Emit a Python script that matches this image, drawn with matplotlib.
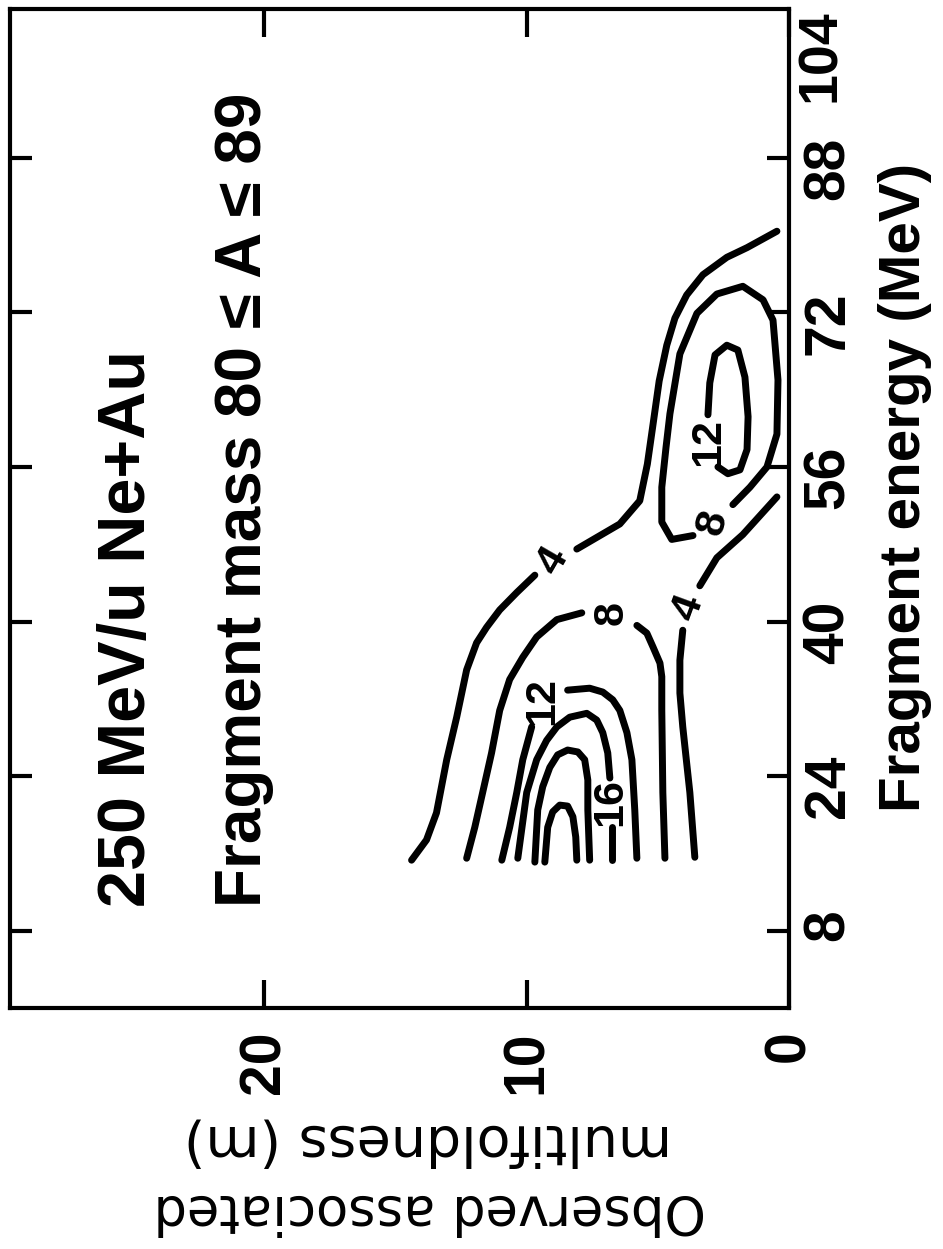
import matplotlib.pyplot as plt

# figure is printed turned on its side: m runs right-to-left, energy bottom-to-top
energy_ticks = [8, 24, 40, 56, 72, 88]
energy_top_label = "104"
m_ticks = [0, 10, 20]
m_tick_labels = ["0", "10", "20"]

# contour lines: (m, E in MeV), split where the label sits
c4_out_m1 = [14.39, 13.82, 13.44, 13.05, 12.67, 12.29, 11.91, 11.53, 11.03, 10.38, 9.69]
c4_out_e1 = [15.3, 17.4, 20.2, 25.7, 30.1, 35.0, 37.8, 39.4, 41.2, 43.0, 44.8]
c4_out_m2 = [8.09, 6.45, 5.69, 5.40, 5.20, 4.95, 4.66, 4.35, 3.90, 3.28, 2.37, 1.60, 0.46]
c4_out_e2 = [47.5, 50.1, 52.5, 56.3, 60.1, 64.9, 68.6, 71.4, 73.8, 75.9, 77.7, 78.7, 80.4]
c4_in_m1 = [3.59, 3.78, 4.05, 4.16, 4.16, 4.05]
c4_in_e1 = [15.6, 22.3, 29.1, 32.6, 36.0, 39.1]
c4_in_m2 = [3.40, 2.75, 1.76, 0.46]
c4_in_e2 = [43.7, 46.6, 49.0, 52.9]

c8_left_m1 = [12.29, 11.98, 11.68, 11.34, 11.03, 10.65, 10.15, 9.62, 8.85, 7.90]
c8_left_e1 = [15.5, 18.7, 22.3, 26.4, 30.8, 34.0, 36.3, 38.4, 40.2, 40.9]
c8_left_m2 = [5.80, 5.42, 5.19, 4.92, 4.85, 4.85, 4.81, 4.73]
c8_left_e2 = [39.6, 38.8, 37.4, 35.7, 34.3, 30.8, 22.3, 15.5]
c8_right_m = [3.66, 4.47, 4.85, 4.85, 4.69, 4.54, 4.16, 3.51, 2.75, 1.76, 0.99, 0.61, 0.42, 0.46, 0.84, 1.49, 2.14]
c8_right_e = [48.9, 48.5, 50.3, 53.9, 58.0, 61.5, 67.7, 71.9, 73.9, 74.7, 73.3, 71.2, 65.0, 59.4, 56.0, 53.9, 52.1]

c12_left_m1 = [10.95, 10.65, 10.38, 10.15, 9.81]
c12_left_e1 = [15.3, 18.7, 22.3, 25.7, 29.1]
c12_left_m2 = [8.44, 7.60, 7.10, 6.72, 6.45, 6.18, 5.99, 5.88, 5.80]
c12_left_e2 = [32.9, 33.1, 32.7, 31.9, 30.8, 28.5, 25.7, 20.5, 15.5]
c12_right_m = [2.71, 2.33, 1.87, 1.60, 1.56, 1.68, 1.95, 2.37, 2.82, 3.02, 3.09]
c12_right_e = [56.0, 55.3, 55.7, 57.8, 61.2, 65.3, 68.1, 68.6, 67.6, 64.7, 61.4]

c16_m1 = [10.34, 10.0, 9.62, 9.24, 8.85, 8.36, 7.71, 7.33, 7.10, 6.91, 6.83]
c16_e1 = [15.5, 22.3, 25.7, 27.7, 29.1, 30.1, 30.5, 29.8, 28.5, 26.4, 23.8]
c16_m2 = [6.76, 6.76]
c16_e2 = [18.7, 15.3]
c20_m = [9.69, 9.58, 9.39, 9.12, 8.82, 8.44, 8.05, 7.79, 7.67, 7.67, 7.60]
c20_e = [15.1, 20.5, 22.9, 24.9, 26.2, 26.7, 26.5, 25.7, 23.6, 20.5, 15.3]
c24_m = [9.31, 9.20, 9.01, 8.74, 8.44, 8.24, 8.13, 8.09]
c24_e = [15.1, 18.7, 20.3, 21.0, 20.9, 19.8, 17.7, 15.3]

# contour labels: (text, m, E, angle)
labels = [("4", 9.0, 46.3, 60), ("4", 3.85, 41.4, 70), ("8", 6.76, 40.9, 90),
          ("8", 2.9, 50.2, 75), ("12", 9.39, 31.8, 90), ("12", 3.09, 58.6, 90),
          ("16", 6.83, 21.3, 90)]

W, H = 943, 1249
fig = plt.figure(figsize=(W / 100, H / 100), dpi=100)
ax = fig.add_axes([10 / W, 1 - 1008 / H, 779 / W, 999 / H])

lines = [(c4_out_m1, c4_out_e1), (c4_out_m2, c4_out_e2), (c4_in_m1, c4_in_e1),
         (c4_in_m2, c4_in_e2), (c8_left_m1, c8_left_e1), (c8_left_m2, c8_left_e2),
         (c8_right_m, c8_right_e), (c12_left_m1, c12_left_e1), (c12_left_m2, c12_left_e2),
         (c12_right_m, c12_right_e), (c16_m1, c16_e1), (c16_m2, c16_e2),
         (c20_m, c20_e), (c24_m, c24_e)]
for xs, ys in lines:
    ax.plot(xs, ys, color='black', lw=5, solid_capstyle='round', solid_joinstyle='round')

for txt, m, e, rot in labels:
    ax.text(m, e, txt, rotation=rot, ha='center', va='center', fontsize=31,
            fontweight='bold', family='Liberation Sans')

ax.set_xlim(29.7, 0)
ax.set_ylim(0, 103.4)
ax.set_xticks(m_ticks)
ax.set_xticklabels(m_tick_labels)
ax.set_yticks(energy_ticks)
ax.set_yticklabels([str(v) for v in energy_ticks])

for s in ax.spines.values():
    s.set_linewidth(3)
ax.tick_params(axis='x', direction='in', length=20, width=3, top=True, bottom=True,
               labelrotation=90, pad=16, labelsize=41)
ax.tick_params(axis='y', direction='in', length=16, width=3, left=True, right=True,
               labelleft=False, labelright=True, labelrotation=90, pad=9, labelsize=41)
for lab in ax.get_xticklabels() + ax.get_yticklabels():
    lab.set_fontweight('bold')
    lab.set_family('Liberation Sans')

fig.text(821 / W, 1 - 56 / H, energy_top_label, rotation=90, ha='center', va='center',
         fontsize=40, fontweight='bold', family='Liberation Sans')

fig.text(905 / W, 1 - 487 / H, "Fragment energy (MeV)", rotation=90, ha='center',
         va='center', fontsize=42, fontweight='bold', family='Liberation Sans')

fig.text(128 / W, 1 - 907 / H, "250 MeV/u Ne+Au", rotation=90, ha='center', va='bottom',
         fontsize=48, fontweight='bold', family='Liberation Sans')
fig.text(244 / W, 1 - 907 / H, "Fragment mass 80 ≤ A ≤ 89", rotation=90, ha='center',
         va='bottom', fontsize=46, fontweight='bold', family='Liberation Sans')

fig.text(428 / W, 1 - 1140 / H, "multifoldness (m)", rotation=180, ha='center', va='center',
         fontsize=40, family='DejaVu Sans')
fig.text(430 / W, 1 - 1210 / H, "Observed associated", rotation=180, ha='center',
         va='center', fontsize=38, family='DejaVu Sans')

fig.savefig('out.png', dpi=100)
